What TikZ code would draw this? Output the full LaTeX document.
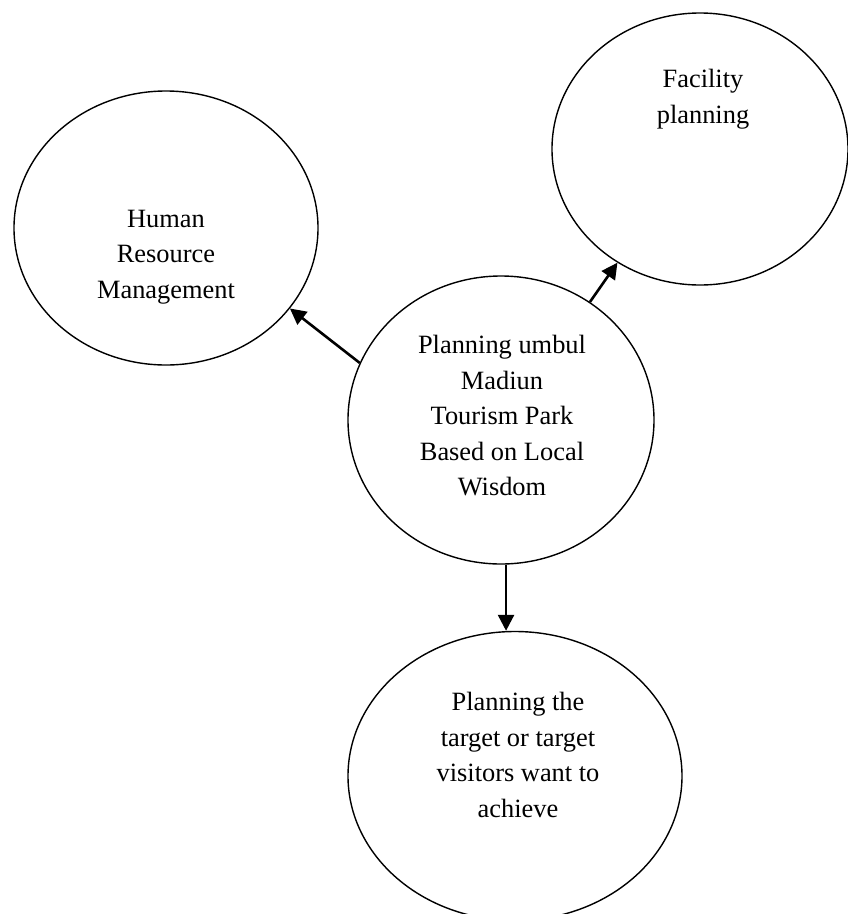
\documentclass[tikz,border=0pt]{standalone}
\usepackage{fontspec}
\setmainfont{Liberation Serif}
\usetikzlibrary{shapes.geometric,arrows.meta}

\tikzset{
  bubble/.style={ellipse, draw=black, line width=1.4pt, inner sep=0pt},
  txt/.style={align=center, inner sep=0pt, font=\fontsize{26.4}{35.5}\selectfont},
  link/.style={line width=2.6pt, -{Triangle[length=16pt,width=16pt]}}
}

\begin{document}
\begin{tikzpicture}[x=1pt,y=-1pt]
  \useasboundingbox (0,0) rectangle (847,914);

  % ellipses
  \node[bubble, minimum width=304pt, minimum height=274pt] (hr)  at (166,228) {};
  \node[bubble, minimum width=296pt, minimum height=272pt] (fac) at (700,149) {};
  \node[bubble, minimum width=306pt, minimum height=288pt] (ctr) at (501,420) {};
  \node[bubble, minimum width=334pt, minimum height=289pt] (tgt) at (515,776) {};

  % texts
  \node[txt] (hr-t)  at (166,257) {Human\\Resource\\Management};
  \node[txt] (fac-t) at (703,99)  {Facility\\planning};
  \node[txt] (ctr-t) at (502,416) {Planning umbul\\Madiun\\Tourism Park\\Based on Local\\Wisdom};
  \node[txt] (tgt-t) at (518,755) {Planning the\\target or target\\visitors want to\\achieve};

  % connectors
  \coordinate (down) at (ctr.-88.8);
  \draw[link] (ctr.158.7) -- (hr.-33.8);
  \draw[link] (ctr.53.9) -- (fac.234.3);
  \draw[link] (down) -- (down |- tgt.north);
\end{tikzpicture}
\end{document}
